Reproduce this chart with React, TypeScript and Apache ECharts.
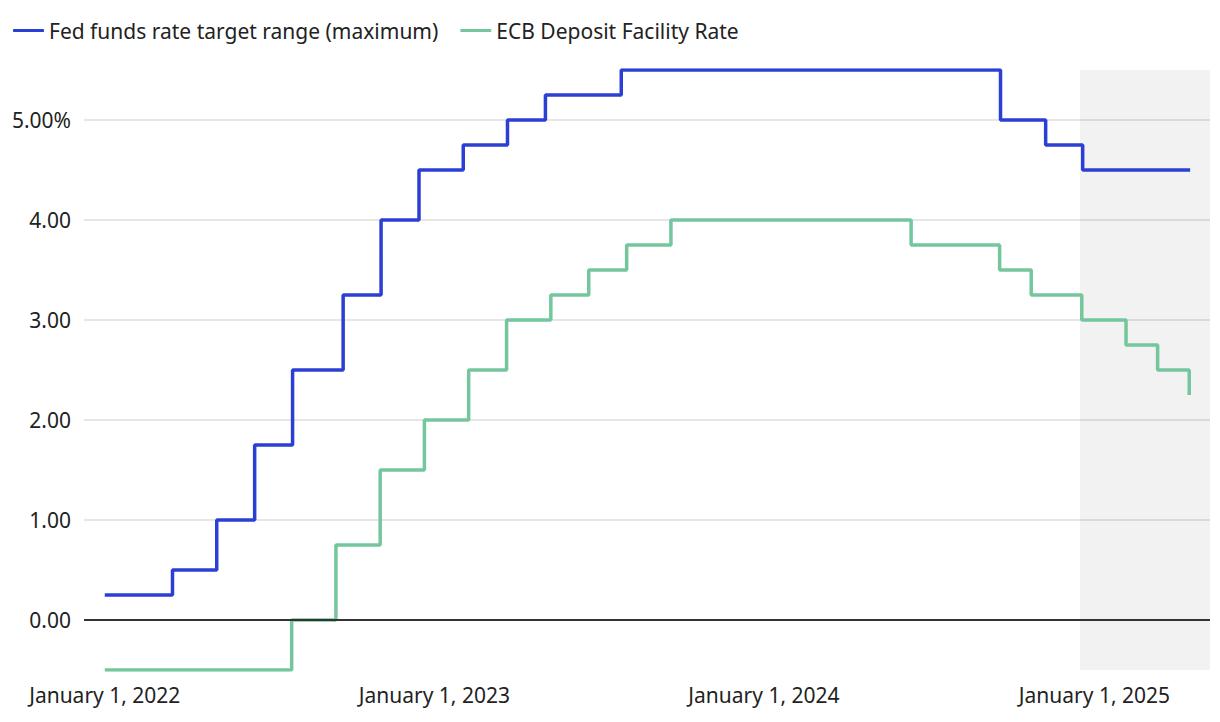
import React, { useEffect, useRef } from "react";
import * as echarts from "echarts";

const fedDates = [
  "2022-01-01", "2022-03-17", "2022-05-05", "2022-06-16", "2022-07-28",
  "2022-09-22", "2022-11-03", "2022-12-15", "2023-02-02", "2023-03-23",
  "2023-05-04", "2023-07-27", "2024-09-19", "2024-11-08", "2024-12-19",
  "2025-04-17",
];
const fedValues = [
  0.25, 0.5, 1.0, 1.75, 2.5, 3.25, 4.0, 4.5, 4.75, 5.0, 5.25, 5.5, 5.0, 4.75,
  4.5, 4.5,
];

const ecbDates = [
  "2022-01-01", "2022-07-27", "2022-09-14", "2022-11-02", "2022-12-21",
  "2023-02-08", "2023-03-22", "2023-05-10", "2023-06-21", "2023-08-02",
  "2023-09-20", "2024-06-12", "2024-09-18", "2024-10-23", "2024-12-18",
  "2025-02-05", "2025-03-12", "2025-04-16",
];
const ecbValues = [
  -0.5, 0, 0.75, 1.5, 2.0, 2.5, 3.0, 3.25, 3.5, 3.75, 4.0, 3.75, 3.5, 3.25,
  3.0, 2.75, 2.5, 2.25,
];

const xTickYears = [2022, 2023, 2024, 2025];
const seriesNames = ["Fed funds rate target range (maximum)", "ECB Deposit Facility Rate"];
const shadeStart = "2024-12-16";

const FONT = "Noto Sans";
const FS = 21;

function ts(s: string) {
  const [y, m, d] = s.split("-").map(Number);
  return Date.UTC(y, m - 1, d);
}

export default function App() {
  const ref = useRef<HTMLDivElement>(null);
  useEffect(() => {
    if (!ref.current) return;
    const chart = echarts.init(ref.current, undefined, { renderer: "svg" });
    const fedData = fedDates.map((d, i) => [ts(d), fedValues[i]]);
    const ecbData = ecbDates.map((d, i) => [ts(d), ecbValues[i]]);
    const minX = ts("2021-12-09");
    const maxX = ts("2025-05-09");
    chart.setOption({
      animation: false,
      textStyle: { fontFamily: FONT },
      legend: {
        left: 8,
        top: 15,
        itemWidth: 31,
        itemHeight: 3,
        itemGap: 22,
        icon: "roundRect",
        textStyle: { fontFamily: FONT, fontSize: FS, color: "#222" },
        data: seriesNames,
      },
      grid: { left: 84, right: 10, top: 70, bottom: 52 },
      xAxis: {
        type: "value",
        min: minX,
        max: maxX,
        axisLine: { show: false },
        axisTick: { show: false },
        splitLine: { show: false },
        axisLabel: {
          customValues: xTickYears.map((y) => Date.UTC(y, 0, 1)),
          formatter: (v: number) => `January 1, ${new Date(v).getUTCFullYear()}`,
          fontFamily: FONT,
          fontSize: FS,
          color: "#222",
          margin: 14,
          hideOverlap: false,
        },
      },
      yAxis: {
        type: "value",
        min: -0.5,
        max: 5.5,
        interval: 0.5,
        axisLine: { show: false },
        axisTick: { show: false },
        splitLine: {
          show: true,
          lineStyle: { color: ["transparent", "#e6e6e6"], width: 2 },
        },
        axisLabel: {
          fontFamily: FONT,
          fontSize: FS,
          color: "#222",
          margin: 13,
          formatter: (v: number) => {
            if (!Number.isInteger(v)) return "";
            return v === 5 ? "5.00%" : v.toFixed(2);
          },
        },
      },
      series: [
        {
          name: seriesNames[0],
          type: "line",
          step: "end",
          data: fedData,
          showSymbol: false,
          symbol: "none",
          z: 3,
          lineStyle: { color: "#2c3fd4", width: 3.5 },
          itemStyle: { color: "#2c3fd4" },
          markArea: {
            silent: true,
            itemStyle: { color: "rgba(0,0,0,0.05)" },
            data: [[{ xAxis: ts(shadeStart) }, { xAxis: maxX }]],
          },
          markLine: {
            silent: true,
            symbol: "none",
            label: { show: false },
            lineStyle: { color: "#333", width: 2, type: "solid" },
            data: [{ yAxis: 0 }],
          },
        },
        {
          name: seriesNames[1],
          type: "line",
          step: "end",
          data: ecbData,
          showSymbol: false,
          symbol: "none",
          z: 4,
          lineStyle: { color: "#74c69d", width: 3.5 },
          itemStyle: { color: "#74c69d" },
        },
      ],
    });
    return () => chart.dispose();
  }, []);
  return (
    <div
      ref={ref}
      style={{ position: "fixed", left: 0, top: 0, width: 1220, height: 722, background: "#fff" }}
    />
  );
}
